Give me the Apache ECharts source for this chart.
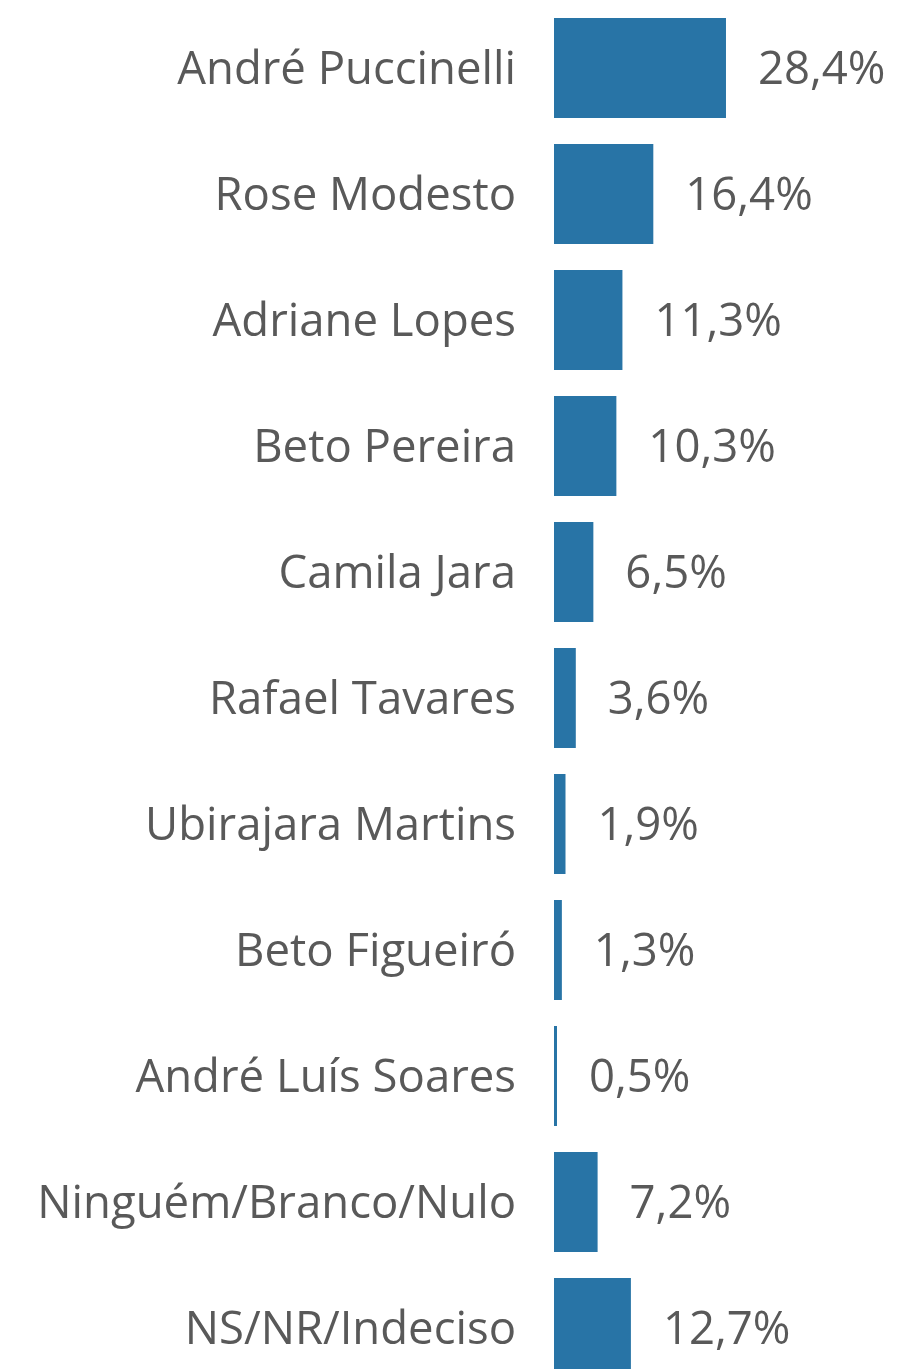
<!DOCTYPE html>
<html>
<head>
<meta charset="utf-8">
<script src="https://cdn.jsdelivr.net/npm/echarts@6/dist/echarts.min.js"></script>
<style>
html,body{margin:0;padding:0;background:#fff;overflow:hidden;width:897px;height:1369px;}
#chart{width:897px;height:1400px;}
</style>
</head>
<body>
<div id="chart"></div>
<script>
const categories = ["André Puccinelli","Rose Modesto","Adriane Lopes","Beto Pereira","Camila Jara","Rafael Tavares","Ubirajara Martins","Beto Figueiró","André Luís Soares","Ninguém/Branco/Nulo","NS/NR/Indeciso"];
const values = [28.4,16.4,11.3,10.3,6.5,3.6,1.9,1.3,0.5,7.2,12.7];

const chart = echarts.init(document.getElementById('chart'), null, {renderer:'canvas'});
const FONT = '"Open Sans", sans-serif';
chart.setOption({
  animation:false,
  backgroundColor:'#ffffff',
  grid:{left:554, top:5, width:343, height:1386, containLabel:false},
  xAxis:{type:'value', min:0, max:56.64, show:false},
  yAxis:{type:'category', data:categories, inverse:true,
    axisLine:{show:false}, axisTick:{show:false},
    axisLabel:{margin:38, color:'#595959', fontSize:45.5, fontFamily:FONT,
      formatter:v=>'{a|'+v+'}',
      rich:{a:{color:'#595959', fontSize:45.5, fontFamily:FONT, padding:[6,0,0,0]}}}
  },
  series:[{
    type:'bar', data:values, barWidth:100,
    itemStyle:{color:'#2874A6'},
    label:{show:true, position:'right', distance:32, offset:[0,3], color:'#595959', fontSize:45.5, fontFamily:FONT,
      formatter:p=>p.value.toFixed(1).replace('.',',')+'%'}
  }]
});
</script>
</body>
</html>
